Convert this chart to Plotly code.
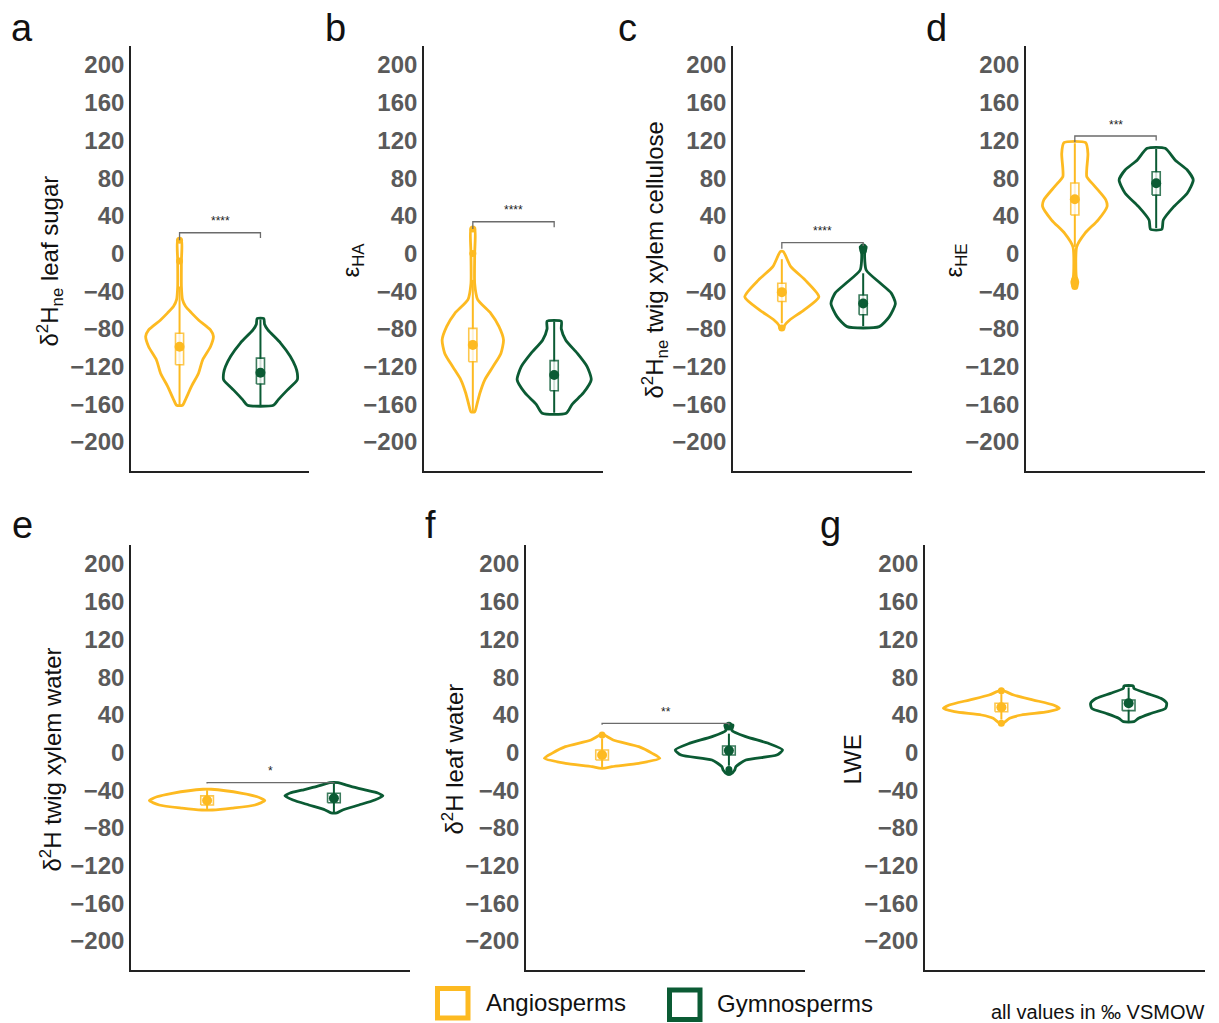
import plotly.graph_objects as go

W, H = 1219, 1023
OFF = 8  # page body margin of the html page
FW, FH = W - OFF, H - OFF
YELLOW = "#FDBA21"
GREEN = "#0B5B34"
FONT = "Liberation Sans"

groups = ["Angiosperms", "Gymnosperms"]
tick_vals = [-200, -160, -120, -80, -40, 0, 40, 80, 120, 160, 200]

# ---------------- data ----------------
# violin profiles: y values and relative density (1 = widest reference)
# a: δ2Hne leaf sugar
a_ang_y = [14, -8, -35, -49, -56, -63, -70.5, -81, -88, -99, -113, -127, -141, -155, -161]
a_ang_d = [0.05, 0.05, 0.05, 0.08, 0.16, 0.32, 0.51, 0.83, 0.91, 0.83, 0.62, 0.51, 0.32, 0.16, 0.08]
a_gym_y = [-69, -75, -81, -95, -109, -120, -127, -134, -145, -155, -161]
a_gym_d = [0.09, 0.11, 0.2, 0.54, 0.8, 0.94, 0.99, 0.99, 0.72, 0.48, 0.35]
a_box = [[-118, -84.7], [-138.5, -111]]
a_whisker = [[-161, -35], [-161, -70]]
a_mean = [-99, -126.5]
a_out = [[14, -8], []]
a_sig = [22, 14, 16.5]
a_label = "****"

# b: εHA
b_ang_y = [26, 0, -32, -49, -63.5, -77.6, -91.8, -106, -120, -134, -148, -160, -168]
b_ang_d = [0.05, 0.05, 0.05, 0.13, 0.48, 0.7, 0.82, 0.75, 0.54, 0.32, 0.19, 0.11, 0.05]
b_gym_y = [-72, -80, -92, -106, -120, -134, -148, -160, -169.5]
b_gym_d = [0.19, 0.19, 0.31, 0.62, 0.88, 0.99, 0.78, 0.48, 0.32]
b_box = [[-114.8, -79.4], [-145.6, -113.7]]
b_whisker = [[-168, -28], [-169, -72]]
b_mean = [-97, -129]
b_out = [[26, 0], []]
b_sig = [33.7, 26, 27.8]
b_label = "****"

# c: δ2Hne twig xylem cellulose
c_ang_y = [2, -14, -28, -46, -60, -70.6, -76, -79.4]
c_ang_d = [0.04, 0.24, 0.62, 0.99, 0.59, 0.21, 0.08, 0.05]
c_gym_y = [7, 0, -17.5, -31.6, -42, -53, -67, -77.6]
c_gym_d = [0.08, 0.04, 0.08, 0.46, 0.75, 0.86, 0.7, 0.43]
c_box = [[-51, -31.6], [-65, -44]]
c_whisker = [[-74, -6], [-77, -21]]
c_mean = [-41, -53]
c_out = [[-79], [7, 3]]
c_sig = [11.5, 5, 8]
c_label = "****"

# d: εHE
d_ang_y = [117.6, 106, 90, 81.5, 71, 56.8, 49.7, 35.5, 21.4, 7, -25, -30, -35]
d_ang_d = [0.29, 0.35, 0.32, 0.32, 0.54, 0.83, 0.86, 0.62, 0.27, 0.05, 0.04, 0.08, 0.05]
d_gym_y = [111.6, 99, 88.6, 78, 64, 49.7, 35.5, 25.7]
d_gym_d = [0.24, 0.51, 0.83, 0.99, 0.83, 0.47, 0.19, 0.15]
d_box = [[40.8, 74.8], [62, 86.8]]
d_whisker = [[7, 117], [27, 111]]
d_mean = [57.5, 74.5]
d_out = [[-28, -32, -35], []]
d_sig = [124.7, 118, 120]
d_label = "***"

# e: δ2H twig xylem water
e_ang_y = [-39, -43.3, -47, -51, -55.7, -59, -61]
e_ang_d = [0.07, 0.6, 0.86, 0.99, 0.82, 0.43, 0.09]
e_gym_y = [-32, -36, -40, -43, -46, -50.4, -55.7, -61, -64]
e_gym_d = [0.07, 0.29, 0.55, 0.75, 0.84, 0.7, 0.43, 0.15, 0.05]
e_box = [[-55.7, -46], [-53.3, -43.3]]
e_whisker = [[-60, -40], [-64, -32]]
e_mean = [-51, -48.6]
e_out = [[], []]
e_sig = [-32, -33, -33]
e_label = "*"

# f: δ2H leaf water
f_ang_y = [18.6, 13.3, 6.2, -0.9, -6.2, -11.5, -15, -16.6]
f_ang_d = [0.03, 0.19, 0.63, 0.86, 0.99, 0.63, 0.17, 0.05]
f_gym_y = [29, 23.6, 16.8, 9.7, 2.7, -2.7, -8, -15, -18.5, -22.8]
f_gym_d = [0.07, 0.05, 0.29, 0.68, 0.92, 0.82, 0.29, 0.12, 0.1, 0.03]
f_box = [[-8, 2.7], [-2.7, 6.9]]
f_whisker = [[-16, 15], [-14, 20]]
f_mean = [-2.7, 2]
f_out = [[18.6], [29, 27, -18, -21]]
f_sig = [31, 29.5, 29]
f_label = "**"

# g: LWE
g_ang_y = [65.6, 61, 55.7, 50.4, 46.9, 43.3, 39.8, 36.3, 31]
g_ang_d = [0.03, 0.21, 0.55, 0.89, 0.99, 0.8, 0.34, 0.14, 0.03]
g_gym_y = [70.6, 68, 62.8, 57.5, 52.2, 46.9, 41.6, 36.3, 32.7]
g_gym_d = [0.08, 0.09, 0.31, 0.55, 0.65, 0.63, 0.39, 0.17, 0.09]
g_box = [[43.3, 52.2], [44.4, 55.7]]
g_whisker = [[35, 62], [33, 69]]
g_mean = [48, 52.2]
g_out = [[65.6, 31], []]
g_sig = None
g_label = ""

# ---------------- layout helpers ----------------
VIOLIN_W = 0.46
BOX_W = 0.05
X_RANGE = [-0.6, 1.6]
Y_RANGE = [-230.8, 220.2]


def px_x(p):
    return (p - OFF) / FW


def px_y(p):
    return 1 - (p - OFF) / FH


panels = [
    dict(letter="a", title="δ<sup>2</sup>H<sub>ne</sub> leaf sugar", xd=(131, 309), yd=(46, 471), tx=50, lx=22, ly=28,
         prof=[(a_ang_y, a_ang_d), (a_gym_y, a_gym_d)], box=a_box, wh=a_whisker, mean=a_mean, out=a_out, sig=a_sig, lab=a_label),
    dict(letter="b", title="ε<sub>HA</sub>", xd=(424, 603), yd=(46, 471), tx=352, lx=335, ly=28,
         prof=[(b_ang_y, b_ang_d), (b_gym_y, b_gym_d)], box=b_box, wh=b_whisker, mean=b_mean, out=b_out, sig=b_sig, lab=b_label),
    dict(letter="c", title="δ<sup>2</sup>H<sub>ne</sub> twig xylem cellulose", xd=(733, 912), yd=(46, 471), tx=655, lx=627, ly=28,
         prof=[(c_ang_y, c_ang_d), (c_gym_y, c_gym_d)], box=c_box, wh=c_whisker, mean=c_mean, out=c_out, sig=c_sig, lab=c_label),
    dict(letter="d", title="ε<sub>HE</sub>", xd=(1026, 1205), yd=(46, 471), tx=955, lx=936, ly=28,
         prof=[(d_ang_y, d_ang_d), (d_gym_y, d_gym_d)], box=d_box, wh=d_whisker, mean=d_mean, out=d_out, sig=d_sig, lab=d_label),
    dict(letter="e", title="δ<sup>2</sup>H twig xylem water", xd=(131, 410), yd=(545, 970), tx=50, lx=22, ly=525,
         prof=[(e_ang_y, e_ang_d), (e_gym_y, e_gym_d)], box=e_box, wh=e_whisker, mean=e_mean, out=e_out, sig=e_sig, lab=e_label),
    dict(letter="f", title="δ<sup>2</sup>H leaf water", xd=(526, 805), yd=(545, 970), tx=452, lx=430, ly=525,
         prof=[(f_ang_y, f_ang_d), (f_gym_y, f_gym_d)], box=f_box, wh=f_whisker, mean=f_mean, out=f_out, sig=f_sig, lab=f_label),
    dict(letter="g", title="LWE", xd=(925, 1205), yd=(545, 970), tx=852, lx=830, ly=525,
         prof=[(g_ang_y, g_ang_d), (g_gym_y, g_gym_d)], box=g_box, wh=g_whisker, mean=g_mean, out=g_out, sig=g_sig, lab=g_label),
]

fig = go.Figure()
annotations = []
shapes = []
layout_axes = {}
colors = [YELLOW, GREEN]

for i, p in enumerate(panels):
    n = "" if i == 0 else str(i + 1)
    xa, ya = "x" + n, "y" + n
    for g in range(2):
        c = colors[g]
        yv, dv = p["prof"][g]
        right_x = [g + VIOLIN_W * d for d in dv]
        left_x = [g - VIOLIN_W * d for d in dv]
        xs = right_x + left_x[::-1] + [right_x[0]]
        ys = list(yv) + list(yv)[::-1] + [yv[0]]
        fig.add_trace(go.Scatter(x=xs, y=ys, mode="lines", xaxis=xa, yaxis=ya,
                                 line=dict(color=c, width=2.8, shape="spline", smoothing=0.6),
                                 showlegend=False, hoverinfo="skip"))
        # whisker
        fig.add_trace(go.Scatter(x=[g, g], y=p["wh"][g], mode="lines", xaxis=xa, yaxis=ya,
                                 line=dict(color=c, width=2), showlegend=False, hoverinfo="skip"))
        # box
        q1, q3 = p["box"][g]
        fig.add_trace(go.Scatter(x=[g - BOX_W, g + BOX_W, g + BOX_W, g - BOX_W, g - BOX_W],
                                 y=[q1, q1, q3, q3, q1], mode="lines", xaxis=xa, yaxis=ya,
                                 fill="toself", fillcolor="white",
                                 line=dict(color=c, width=1.6), opacity=0.8,
                                 showlegend=False, hoverinfo="skip"))
        # outliers
        if p["out"][g]:
            fig.add_trace(go.Scatter(x=[g] * len(p["out"][g]), y=p["out"][g], mode="markers",
                                     xaxis=xa, yaxis=ya, marker=dict(color=c, size=7),
                                     showlegend=False, hoverinfo="skip"))
        # mean
        fig.add_trace(go.Scatter(x=[g], y=[p["mean"][g]], mode="markers", xaxis=xa, yaxis=ya,
                                 marker=dict(color=c, size=10), showlegend=False, hoverinfo="skip"))
    # significance bracket
    if p["sig"]:
        lvl, lb, rb = p["sig"]
        fig.add_trace(go.Scatter(x=[0, 0, 1, 1], y=[lb, lvl, lvl, rb], mode="lines", xaxis=xa, yaxis=ya,
                                 line=dict(color="#6b6b6b", width=1.3), showlegend=False, hoverinfo="skip"))
        annotations.append(dict(x=0.5, y=lvl + 12, xref=xa, yref=ya, text=p["lab"], showarrow=False,
                                font=dict(family=FONT, size=12, color="#222"), xanchor="center", yanchor="middle"))
    # axes
    xkey = "xaxis" + n
    ykey = "yaxis" + n
    layout_axes[xkey] = dict(domain=[px_x(p["xd"][0]), px_x(p["xd"][1])], anchor=ya, range=X_RANGE,
                             showline=True, linecolor="#222", linewidth=1.6, showticklabels=False,
                             showgrid=False, zeroline=False, ticks="", fixedrange=True)
    layout_axes[ykey] = dict(domain=[px_y(p["yd"][1]), px_y(p["yd"][0])], anchor=xa, range=Y_RANGE,
                             tickvals=tick_vals, showline=True, linecolor="#222", linewidth=1.6,
                             showgrid=False, zeroline=False, ticks="",
                             tickfont=dict(family=FONT, size=24, color="#5a5a5a", weight="bold"))
    # titles and panel letters
    ymid = (p["yd"][0] + p["yd"][1]) / 2 + 2
    annotations.append(dict(x=px_x(p["tx"]), y=px_y(ymid), xref="paper", yref="paper", text=p["title"],
                            textangle=-90, showarrow=False, xanchor="center", yanchor="middle",
                            font=dict(family=FONT, size=24, color="#111")))
    annotations.append(dict(x=px_x(p["lx"]), y=px_y(p["ly"]), xref="paper", yref="paper", text=p["letter"],
                            showarrow=False, xanchor="center", yanchor="middle",
                            font=dict(family=FONT, size=38, color="#111")))

# legend
shapes.append(dict(type="rect", xref="paper", yref="paper", x0=px_x(437.5), x1=px_x(468), y0=px_y(1018), y1=px_y(988.5),
                   line=dict(color=YELLOW, width=5), fillcolor="white"))
shapes.append(dict(type="rect", xref="paper", yref="paper", x0=px_x(669.5), x1=px_x(700), y0=px_y(1019.5), y1=px_y(990),
                   line=dict(color=GREEN, width=5), fillcolor="white"))
annotations.append(dict(x=px_x(484), y=px_y(1002), xref="paper", yref="paper", text=groups[0], showarrow=False,
                        xanchor="left", yanchor="middle", font=dict(family=FONT, size=24, color="#111")))
annotations.append(dict(x=px_x(715), y=px_y(1003), xref="paper", yref="paper", text=groups[1], showarrow=False,
                        xanchor="left", yanchor="middle", font=dict(family=FONT, size=24, color="#111")))
annotations.append(dict(x=px_x(1207), y=px_y(1012), xref="paper", yref="paper", text="all values in ‰ VSMOW",
                        showarrow=False, xanchor="right", yanchor="middle", font=dict(family=FONT, size=20, color="#111")))

fig.update_layout(width=FW, height=FH, margin=dict(l=0, r=0, t=0, b=0), paper_bgcolor="white", plot_bgcolor="white",
                  annotations=annotations, shapes=shapes, showlegend=False, **layout_axes)

fig.write_html("out.html")
